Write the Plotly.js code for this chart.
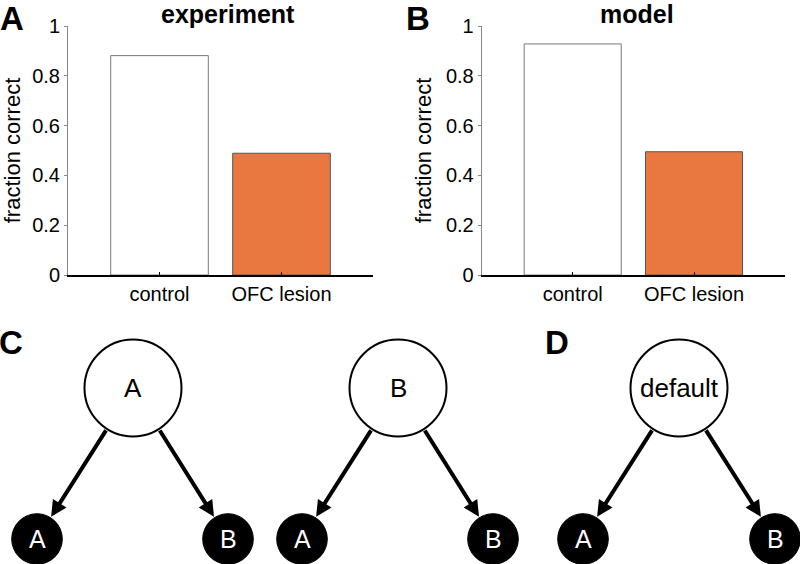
<!DOCTYPE html>
<html>
<head>
<meta charset="utf-8">
<script src="https://cdn.plot.ly/plotly-3.0.1.min.js"></script>
<style>html,body{margin:0;padding:0;background:#fff;}#chart{width:800px;height:564px;}</style>
</head>
<body>
<div id="chart"></div>
<script>
// ---- data ----
const categories = ['control', 'OFC lesion'];
const experimentValues = [0.881, 0.489];
const modelValues = [0.928, 0.495];
const barColors = ['#ffffff', '#E8783F'];
const panelTitles = ['experiment', 'model'];
const yTitle = 'fraction correct';
const yTickVals = [0, 0.2, 0.4, 0.6, 0.8, 1];
const yTickText = ['0', '0.2', '0.4', '0.6', '0.8', '1'];
const panelLetters = ['A', 'B', 'C', 'D'];
const rootLabels = ['A', 'B', 'default'];
const leafLabels = ['A', 'B'];

// ---- layout geometry (pixels) ----
const W = 800, H = 564;
const FONT = 'Liberation Sans, Arial, Helvetica, sans-serif';
const px = x => x / W;
const py = y => (H - y) / H;
const diagTop = 320;
const rootPos = [[133, 388], [398, 388], [679, 388]];
const leafPos = [[[37, 539], [228, 539]], [[302, 539], [493, 539]], [[583, 539], [775, 539]]];
const R = 48.5, r = 25.3;

function barTrace(vals, xa, ya) {
  return {
    type: 'bar', x: categories, y: vals, xaxis: xa, yaxis: ya,
    width: 0.8,
    marker: { color: barColors, line: { color: ['#777777', '#555555'], width: 1 } },
    hoverinfo: 'skip'
  };
}

const data = [
  barTrace(experimentValues, 'x', 'y'),
  barTrace(modelValues, 'x2', 'y2')
];

function yAxis(anchor) {
  return {
    domain: [py(275), py(26)], range: [0, 1], anchor: anchor,
    tickvals: yTickVals, ticktext: yTickText,
    ticks: 'outside', ticklen: 3, tickcolor: '#888', tickwidth: 1,
    showline: true, linecolor: '#888', linewidth: 1,
    showgrid: false, zeroline: false,
    tickfont: { family: FONT, size: 20, color: '#000' },
    title: { text: yTitle, font: { family: FONT, size: 22, color: '#000' }, standoff: 8 },
    fixedrange: true
  };
}
function xAxis(anchor, x0, x1) {
  return {
    domain: [px(x0), px(x1)], range: [-0.75, 1.75], anchor: anchor,
    type: 'category',
    ticks: 'inside', ticklen: 3, tickcolor: '#000', tickwidth: 1,
    showline: true, linecolor: '#000', linewidth: 1.5,
    showgrid: false, zeroline: false,
    tickfont: { family: FONT, size: 20, color: '#000' },
    fixedrange: true
  };
}

const shapes = [];
const annotations = [];

// panel titles
[[panelTitles[0], 228], [panelTitles[1], 637]].forEach(([t, x]) => {
  annotations.push({ xref: 'paper', yref: 'paper', x: px(x), y: py(14), text: '<b>' + t + '</b>',
    showarrow: false, xanchor: 'center', yanchor: 'middle', borderpad: 0, borderwidth: 0,
    font: { family: FONT, size: 25, color: '#000' } });
});
// panel letters
[[panelLetters[0], 0, 19], [panelLetters[1], 406, 19], [panelLetters[2], -1, 342], [panelLetters[3], 545, 342]].forEach(([t, x, y]) => {
  annotations.push({ xref: 'paper', yref: 'paper', x: px(x), y: py(y), text: '<b>' + t + '</b>',
    showarrow: false, xanchor: 'left', yanchor: 'middle', borderpad: 0, borderwidth: 0,
    font: { family: FONT, size: 33, color: '#000' } });
});

// diagrams
rootPos.forEach((rp, i) => {
  const [cx, cy] = rp;
  shapes.push({ type: 'circle', xref: 'x3', yref: 'y3', x0: cx - R, x1: cx + R, y0: cy - R, y1: cy + R,
    fillcolor: '#fff', line: { color: '#000', width: 2 } });
  annotations.push({ xref: 'x3', yref: 'y3', x: cx, y: cy, text: rootLabels[i], showarrow: false,
    font: { family: FONT, size: 26, color: '#000' } });
  leafPos[i].forEach((lp, j) => {
    const [lx, ly] = lp;
    shapes.push({ type: 'circle', xref: 'x3', yref: 'y3', x0: lx - r, x1: lx + r, y0: ly - r, y1: ly + r,
      fillcolor: '#000', line: { color: '#000', width: 1 } });
    annotations.push({ xref: 'x3', yref: 'y3', x: lx, y: ly, text: leafLabels[j], showarrow: false,
      font: { family: FONT, size: 25, color: '#fff' } });
    const dx = lx - cx, dy = ly - cy, L = Math.hypot(dx, dy);
    const ux = dx / L, uy = dy / L;
    annotations.push({ xref: 'x3', yref: 'y3', axref: 'x3', ayref: 'y3',
      x: lx - ux * (r + 1), y: ly - uy * (r + 1), ax: cx + ux * R, ay: cy + uy * R,
      text: '', showarrow: true, arrowhead: 2, arrowsize: 0.8, arrowwidth: 4, arrowcolor: '#000', standoff: 0, startstandoff: 0 });
  });
});

const layout = {
  width: W, height: H,
  margin: { l: 0, r: 0, t: 0, b: 0, pad: 0 },
  paper_bgcolor: '#fff', plot_bgcolor: 'rgba(0,0,0,0)',
  showlegend: false, bargap: 0.2,
  xaxis: xAxis('y', 68, 373),
  yaxis: yAxis('x'),
  xaxis2: xAxis('y2', 481.7, 785),
  yaxis2: yAxis('x2'),
  xaxis3: { domain: [0, 1], range: [0, W], visible: false, fixedrange: true, anchor: 'y3' },
  yaxis3: { domain: [0, py(diagTop)], range: [H, diagTop], visible: false, fixedrange: true, anchor: 'x3' },
  shapes: shapes, annotations: annotations
};

Plotly.newPlot('chart', data, layout, { staticPlot: true, displayModeBar: false });
</script>
</body>
</html>
